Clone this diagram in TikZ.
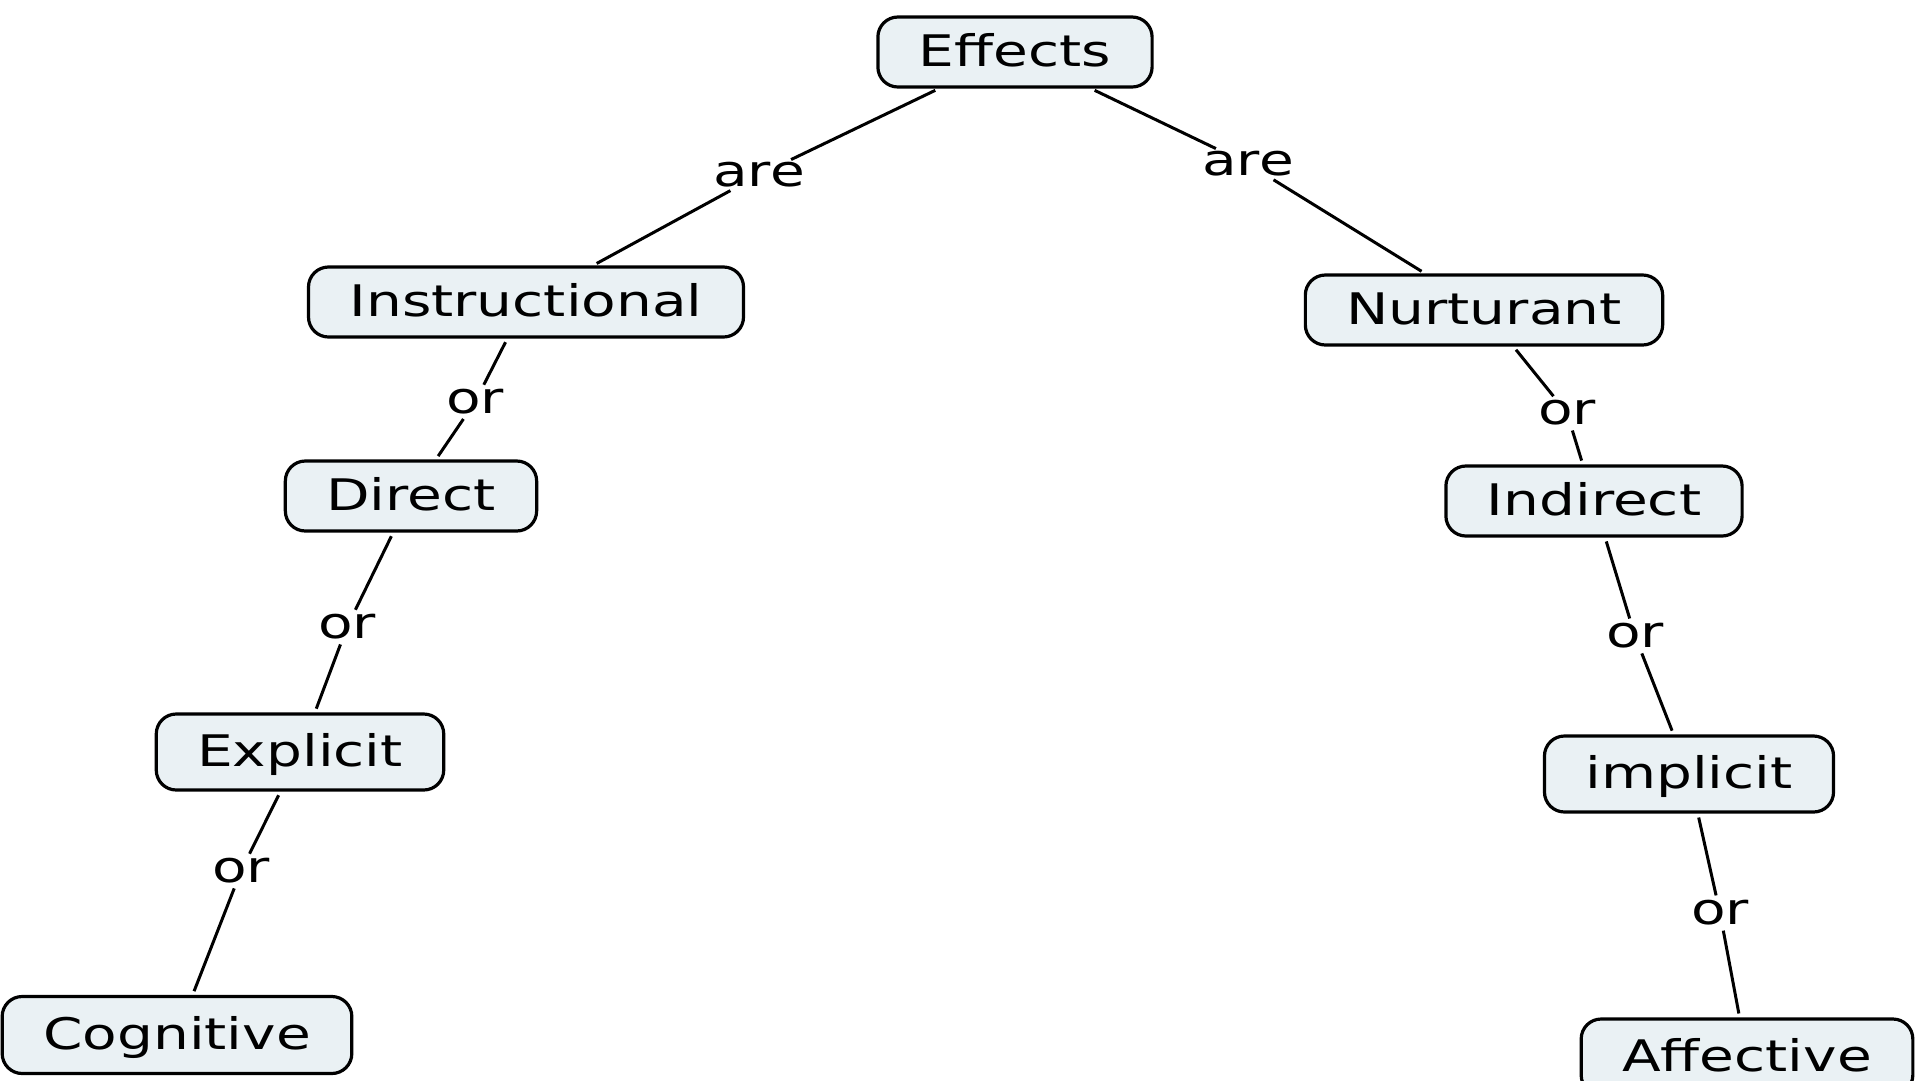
\documentclass[tikz,border=0pt]{standalone}
\usepackage{fontspec}
\setmainfont{DejaVu Sans}[FakeStretch=1.3]
\definecolor{conceptfill}{RGB}{234,241,244}
\begin{document}
\begin{tikzpicture}[x=1pt,y=-1pt,
  concept/.style={draw=black, line width=3.2pt, fill=conceptfill,
    rounded corners=20pt, inner xsep=41pt, inner ysep=0pt,
    text height=36pt, text depth=7pt, minimum height=70pt,
    font=\fontsize{43.5}{50}\selectfont},
  linkword/.style={inner sep=1pt, font=\fontsize{43.5}{50}\selectfont},
  conn/.style={line width=3pt, shorten <=4pt, shorten >=4pt}]
\useasboundingbox (0,0) rectangle (1920,1080);

% concepts
\node[concept] (effects) at (1015,52) {Effects};
\node[concept] (instr) at (526,302) {Instructional};
\node[concept] (nurt) at (1484,310) {Nurturant};
\node[concept] (direct) at (411,496) {Direct};
\node[concept] (indirect) at (1594,501) {Indirect};
\node[concept, minimum height=76pt] (explicit) at (300,752) {Explicit};
\node[concept, minimum height=76pt] (implicit) at (1689,774) {implicit};
\node[concept, minimum height=77pt] (cognitive) at (177,1035) {Cognitive};
\node[concept, minimum height=76pt] (affective) at (1747,1057) {Affective};

% linking words
\node[linkword] (areL) at (759,175) {are};
\node[linkword] (areR) at (1248,164) {are};
\node[linkword] (or1) at (475,402) {or};
\node[linkword] (or2) at (1567,413) {or};
\node[linkword] (or3) at (347,627) {or};
\node[linkword] (or4) at (1635,636) {or};
\node[linkword] (or5) at (241,871) {or};
\node[linkword] (or6) at (1720,913) {or};

% connections
\draw[conn] (effects) -- (areL);
\draw[conn] (areL) -- (instr);
\draw[conn] (effects) -- (areR);
\draw[conn] (areR) -- (nurt);
\draw[conn] (instr) -- (or1);
\draw[conn] (or1) -- (direct);
\draw[conn] (nurt) -- (or2);
\draw[conn] (or2) -- (indirect);
\draw[conn] (direct) -- (or3);
\draw[conn] (or3) -- (explicit);
\draw[conn] (indirect) -- (or4);
\draw[conn] (or4) -- (implicit);
\draw[conn] (explicit) -- (or5);
\draw[conn] (or5) -- (cognitive);
\draw[conn] (implicit) -- (or6);
\draw[conn] (or6) -- (affective);
\end{tikzpicture}
\end{document}
